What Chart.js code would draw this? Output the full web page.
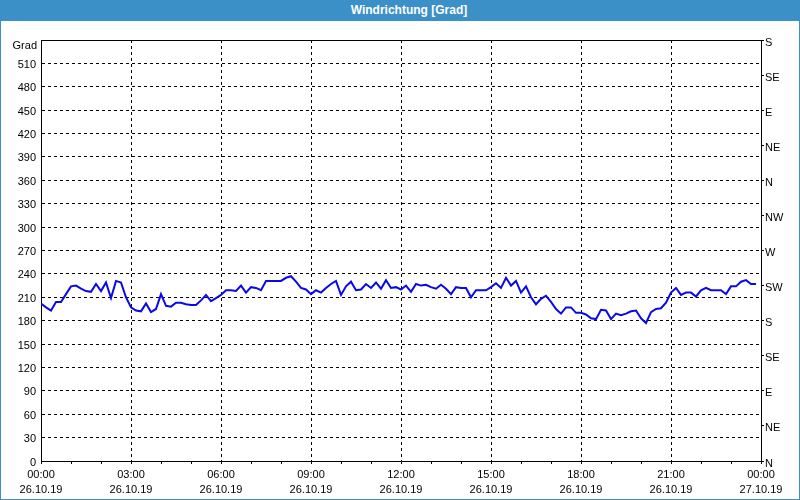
<!DOCTYPE html>
<html>
<head>
<meta charset="utf-8">
<script src="https://cdn.jsdelivr.net/npm/chart.js@4"></script>
<style>
  html, body { margin: 0; padding: 0; background: #ffffff; }
  #wrap { position: relative; width: 800px; height: 500px; background: #ffffff; overflow: hidden; }
  #frame { position: absolute; left: 0; top: 0; width: 800px; height: 500px; box-sizing: border-box;
           border: 1px solid #3c90c8; pointer-events: none; z-index: 3; }
  #title { position: absolute; left: 0; top: 0; width: 800px; height: 21px; background: #3c90c8;
           color: #ffffff; font: bold 12px "Liberation Sans", Arial, sans-serif; text-align: center;
           line-height: 21px; z-index: 2; padding-left: 18px; box-sizing: border-box; }
  canvas { position: absolute; left: 0; top: 0; }
</style>
</head>
<body>
<div id="wrap">
  <div id="title">Windrichtung [Grad]</div>
  <div id="frame"></div>
  <canvas id="c" width="800" height="500"></canvas>
</div>
<script>
// ---- data (10-minute samples starting 26.10.19 00:00) ----
const sampleMinutes = 10;
const windDirection = [
  202,197,193,204,204,214,224,225,221,218,
  217,227,218,229,209,231,229,210,197,193,
  192,202,191,195,214,199,198,203,203,201,
  200,200,206,213,205,209,213,219,219,218,
  225,216,223,222,219,231,231,231,231,235,
  237,230,222,220,214,219,216,222,227,231,
  213,224,230,219,220,227,222,229,221,232,
  222,223,220,225,217,227,225,226,223,221,
  226,221,214,223,222,222,210,219,219,219,
  223,228,222,235,225,231,216,224,210,201,
  208,212,204,195,189,197,197,190,190,188,
  183,182,194,193,182,189,187,189,192,193,
  183,177,191,195,196,203,216,222,213,216,
  216,211,219,222,219,219,219,214,224,224,
  230,232,227,227
];
const timeLabels = ['00:00','03:00','06:00','09:00','12:00','15:00','18:00','21:00','00:00'];
const dateLabels = ['26.10.19','26.10.19','26.10.19','26.10.19','26.10.19','26.10.19','26.10.19','26.10.19','27.10.19'];
const directionNames = ['N','NE','E','SE','S','SW','W','NW'];
const yUnit = 'Grad';

const minuteLabels = windDirection.map((_, i) => i * sampleMinutes);
const FONT = { family: '"Liberation Sans", Arial, sans-serif', size: 11 };

const framePlugin = {
  id: 'framePlugin',
  afterDraw(chart) {
    const { ctx, chartArea: a } = chart;
    ctx.save();
    ctx.strokeStyle = '#000';
    ctx.lineWidth = 1;
    ctx.beginPath();
    ctx.moveTo(a.left, Math.round(a.top) + 0.5);
    ctx.lineTo(a.right, Math.round(a.top) + 0.5);
    ctx.stroke();
    ctx.fillStyle = '#000';
    ctx.font = '11px "Liberation Sans", Arial, sans-serif';
    ctx.textAlign = 'right';
    ctx.textBaseline = 'middle';
    ctx.fillText(yUnit, a.left - 4, a.top + 6);
    ctx.restore();
  }
};

new Chart(document.getElementById('c'), {
  type: 'line',
  data: {
    labels: minuteLabels,
    datasets: [{
      data: windDirection,
      borderColor: '#0a0ae6',
      borderWidth: 2,
      pointRadius: 0,
      tension: 0,
      fill: false,
      yAxisID: 'y'
    }]
  },
  options: {
    responsive: false,
    animation: false,
    layout: { padding: { left: 1, right: 1, top: 40, bottom: 1 } },
    plugins: { legend: { display: false }, tooltip: { enabled: false }, title: { display: false } },
    scales: {
      x: {
        type: 'linear',
        min: 0, max: 1440,
        afterFit(s) { s.height = 38; },
        ticks: {
          stepSize: 60, autoSkip: false, maxRotation: 0, minRotation: 0,
          color: '#000', font: { ...FONT, lineHeight: 1.42 }, padding: 3,
          callback(v) {
            if (v % 180 !== 0) return '';
            const i = v / 180;
            return [timeLabels[i], dateLabels[i]];
          }
        },
        grid: {
          color(ctx) {
            const v = ctx.tick ? ctx.tick.value : 0;
            return (v % 180 === 0 && v !== 0 && v !== 1440) ? '#000' : 'rgba(0,0,0,0)';
          },
          lineWidth: 1,
          drawTicks: true, tickLength: 3, tickColor: '#000', tickWidth: 1, tickBorderDash: []
        },
        border: { display: true, color: '#000', width: 1, dash: [3, 3] }
      },
      y: {
        type: 'linear', position: 'left',
        min: 0, max: 540,
        afterFit(s) { s.width = 40; },
        ticks: {
          stepSize: 30, color: '#000', font: FONT, padding: 5, labelOffset: 1.5,
          callback(v) { return v === 540 ? '' : String(v); }
        },
        grid: {
          color(ctx) {
            const v = ctx.tick ? ctx.tick.value : 0;
            return (v === 0 || v === 540) ? 'rgba(0,0,0,0)' : '#000';
          },
          lineWidth: 1, drawTicks: false
        },
        border: { display: true, color: '#000', width: 1, dash: [3, 3] }
      },
      yDir: {
        type: 'linear', position: 'right',
        min: 0, max: 540,
        afterFit(s) { s.width = 38; },
        ticks: {
          stepSize: 45, color: '#000', font: FONT, padding: 1, labelOffset: 2.5,
          callback(v) { return directionNames[Math.round(v / 45) % directionNames.length]; }
        },
        grid: { drawOnChartArea: false, drawTicks: true, tickLength: 3, tickColor: '#000', tickWidth: 1 },
        border: { display: true, color: '#000', width: 1 }
      }
    }
  },
  plugins: [framePlugin]
});
</script>
</body>
</html>
